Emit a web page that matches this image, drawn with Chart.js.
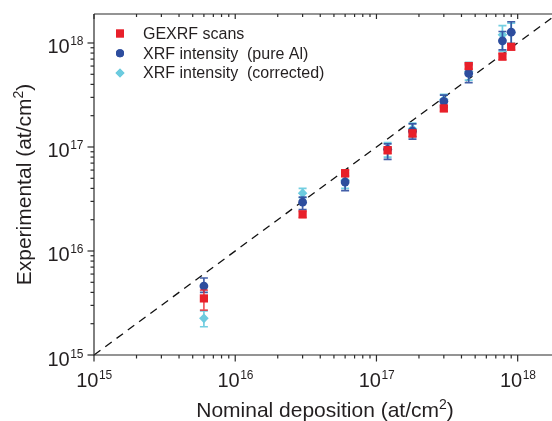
<!DOCTYPE html>
<html><head><meta charset="utf-8">
<script src="https://cdn.jsdelivr.net/npm/chart.js@4/dist/chart.umd.min.js"></script>
<style>html,body{margin:0;padding:0;background:#fff;} #wrap{width:552px;height:421px;position:relative;}</style>
</head><body><div id="wrap"><canvas id="c" width="552" height="421"></canvas></div>
<script>
// ---- data ----
const nominal      = [6e15, 3e16, 6e16, 1.2e17, 1.8e17, 3e17, 4.5e17, 7.8e17, 9e17];
const gexrf        = [3.5e15, 2.25e16, 5.6e16, 9.3e16, 1.35e17, 2.35e17, 6.0e17, 7.4e17, 9.2e17];
const gexrfLo      = [2.7e15, 2.1e16, 5.2e16, 8.7e16, 1.26e17, 2.2e17, 5.6e17, 6.9e17, 8.6e17];
const gexrfHi      = [4.2e15, 2.4e16, 6.0e16, 1.0e17, 1.45e17, 2.5e17, 6.4e17, 7.9e17, 9.8e17];
const pureAl       = [4.6e15, 2.95e16, 4.6e16, 9.5e16, 1.42e17, 2.75e17, 5.1e17, 1.05e18, 1.27e18];
const pureAlLo     = [4.0e15, 2.5e16, 3.8e16, 7.6e16, 1.19e17, 2.4e17, 4.15e17, 8.6e17, 9.6e17];
const pureAlHi     = [5.5e15, 3.3e16, 5.3e16, 1.07e17, 1.67e17, 3.15e17, 6.2e17, 1.29e18, 1.6e18];
const corrected    = [2.25e15, 3.6e16, 4.8e16, 9.5e16, 1.5e17, 2.85e17, 5.3e17, 1.2e18, 1.27e18];
const correctedLo  = [1.87e15, 3.25e16, 4.0e16, 8.0e16, 1.25e17, 2.5e17, 4.4e17, 8.3e17, 1.0e18];
const correctedHi  = [2.65e15, 4.0e16, 5.6e16, 1.1e17, 1.7e17, 3.2e17, 6.5e17, 1.47e18, 1.55e18];
const identityLine = [1e15, 3e18];
const xTickExps = [15, 16, 17, 18];
const yTickExps = [15, 16, 17, 18];
const tickMantissas = [1, 2, 3, 4, 5, 6, 7, 8, 9];
const legendLabels = ['GEXRF scans', 'XRF intensity  (pure Al)', 'XRF intensity  (corrected)'];
const xTitle = ['Nominal deposition (at/cm', '2', ')'];
const yTitle = ['Experimental (at/cm', '2', ')'];

const RED = '#e8202a', BLUE = '#2d4d9e', CYAN = '#6ccbdf', TXT = '#231f20';
const FONT = '"Liberation Sans", Arial, Helvetica, sans-serif';

function pts(xs, ys) { return xs.map((v, i) => ({x: v, y: ys[i]})); }

const plugin = {
  id: 'custom',
  beforeDatasetDraw(chart, args) {
    const ds = chart.data.datasets[args.index];
    if (!ds.errLo) return;
    const {ctx} = chart, x = chart.scales.x, y = chart.scales.y;
    ctx.save();
    ctx.strokeStyle = ds.errColor; ctx.lineWidth = 1.7;
    ds.data.forEach((p, i) => {
      const px = x.getPixelForValue(p.x);
      const yl = y.getPixelForValue(ds.errLo[i]), yh = y.getPixelForValue(ds.errHi[i]);
      ctx.beginPath();
      ctx.moveTo(px, yl); ctx.lineTo(px, yh);
      ctx.moveTo(px - 4, yl); ctx.lineTo(px + 4, yl);
      ctx.moveTo(px - 4, yh); ctx.lineTo(px + 4, yh);
      ctx.stroke();
    });
    ctx.restore();
  },
  afterDraw(chart) {
    const {ctx, chartArea: ca} = chart, x = chart.scales.x, y = chart.scales.y;
    ctx.save();
    ctx.strokeStyle = '#2a2a2a'; ctx.lineWidth = 1.2;
    const ln = (a, b, c, d) => { ctx.beginPath(); ctx.moveTo(a, b); ctx.lineTo(c, d); ctx.stroke(); };
    ln(ca.left, ca.top, ca.left, ca.bottom + 0.5);
    ln(ca.left, ca.bottom, ca.right, ca.bottom);
    ln(ca.left, ca.top, ca.right, ca.top);
    // ticks
    xTickExps.concat([19]).forEach(e => tickMantissas.forEach(m => {
      const v = m * Math.pow(10, e);
      if (v < x.min || v > x.max) return;
      const p = x.getPixelForValue(v), len = m === 1 ? 6.5 : 3.5;
      ln(p, ca.bottom, p, ca.bottom + len);
      ln(p, ca.top, p, ca.top + (m === 1 ? 5 : 3));
    }));
    yTickExps.concat([19]).forEach(e => tickMantissas.forEach(m => {
      const v = m * Math.pow(10, e);
      if (v < y.min || v > y.max) return;
      const p = y.getPixelForValue(v), len = m === 1 ? 6.5 : 3.5;
      ln(ca.left - len, p, ca.left, p);
    }));
    // tick labels
    ctx.fillStyle = TXT; ctx.textBaseline = 'alphabetic'; ctx.textAlign = 'left';
    const pow = (cx, base, exp, align) => {
      ctx.font = '20px ' + FONT; const w1 = ctx.measureText('10').width;
      ctx.font = '12px ' + FONT; const w2 = ctx.measureText(String(exp)).width;
      const start = align === 'center' ? cx - (w1 + w2) / 2 : cx - (w1 + w2);
      ctx.font = '20px ' + FONT; ctx.fillText('10', start, base);
      ctx.font = '12px ' + FONT; ctx.fillText(String(exp), start + w1 + 0.5, base - 8);
    };
    xTickExps.forEach(e => pow(x.getPixelForValue(Math.pow(10, e)), ca.bottom + 32, e, 'center'));
    yTickExps.forEach(e => pow(ca.left - 11, y.getPixelForValue(Math.pow(10, e)) + 10.5, e, 'right'));
    // axis titles
    const title = (parts, cx, base) => {
      ctx.font = '21px ' + FONT; const a = ctx.measureText(parts[0]).width, c = ctx.measureText(parts[2]).width;
      ctx.font = '14px ' + FONT; const b = ctx.measureText(parts[1]).width;
      const s = cx - (a + b + c) / 2;
      ctx.font = '21px ' + FONT; ctx.fillText(parts[0], s, base);
      ctx.font = '14px ' + FONT; ctx.fillText(parts[1], s + a, base - 8);
      ctx.font = '21px ' + FONT; ctx.fillText(parts[2], s + a + b, base);
    };
    title(xTitle, (ca.left + ca.right) / 2 + 2, 417);
    ctx.save();
    ctx.translate(31, (ca.top + ca.bottom) / 2);
    ctx.rotate(-Math.PI / 2);
    title(yTitle, 0, 0);
    ctx.restore();
    // legend
    const ds = chart.data.datasets;
    ctx.font = '16px ' + FONT; ctx.textBaseline = 'middle';
    [0, 1, 2].forEach(i => {
      const yy = 33.5 + i * 19.7;
      ctx.fillStyle = ds[i].backgroundColor;
      Chart.helpers.drawPoint(ctx, {pointStyle: ds[i].pointStyle, radius: ds[i].legendRadius, borderWidth: 0}, 120, yy);
      ctx.fill();
      ctx.fillStyle = TXT;
      ctx.fillText(legendLabels[i], 143, yy + 1);
    });
    ctx.restore();
  }
};

new Chart(document.getElementById('c'), {
  data: {
    datasets: [
      {type: 'scatter', label: legendLabels[0], data: pts(nominal, gexrf), errLo: gexrfLo, errHi: gexrfHi,
       errColor: 'rgba(232,32,42,0.75)', backgroundColor: RED, pointStyle: 'rect', pointRadius: 5.8, legendRadius: 5.6,
       pointBorderWidth: 0, clip: false},
      {type: 'scatter', label: legendLabels[1], data: pts(nominal, pureAl), errLo: pureAlLo, errHi: pureAlHi,
       errColor: 'rgba(45,77,158,0.9)', backgroundColor: BLUE, pointStyle: 'circle', pointRadius: 4.4, legendRadius: 4,
       pointBorderWidth: 0, clip: false},
      {type: 'scatter', label: legendLabels[2], data: pts(nominal, corrected), errLo: correctedLo, errHi: correctedHi,
       errColor: 'rgba(108,203,223,0.95)', backgroundColor: CYAN, pointStyle: 'rectRot', pointRadius: 4.8, legendRadius: 4.5,
       pointBorderWidth: 0, clip: false},
      {type: 'line', data: pts(identityLine, identityLine), borderColor: '#111', borderWidth: 1.3,
       borderDash: [8, 6], pointRadius: 0, fill: false}
    ]
  },
  options: {
    responsive: false, animation: false, events: [],
    layout: {autoPadding: false, padding: {left: 94, top: 14, right: 0, bottom: 66}},
    plugins: {legend: {display: false}, tooltip: {enabled: false}},
    scales: {
      x: {type: 'logarithmic', min: 1e15, max: 1.75e18, display: false},
      y: {type: 'logarithmic', min: 1e15, max: 1.9e18, display: false}
    }
  },
  plugins: [plugin]
});
</script>
</body></html>
